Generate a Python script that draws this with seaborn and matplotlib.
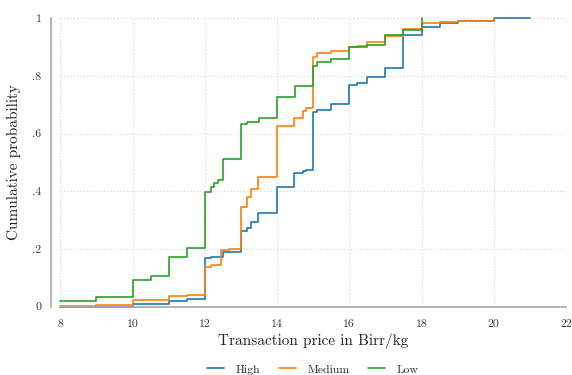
import pandas as pd
import matplotlib
matplotlib.use("Agg")
import matplotlib.pyplot as plt
import seaborn as sns

# -----------------------------------------------------
# DATA
# -----------------------------------------------------

high_price = [8, 10, 11, 11.5, 12, 12.16, 12.5, 13, 13.18, 13.28, 13.46, 14, 14.48, 14.72, 14.81,
              15, 15.12, 15.5, 16, 16.21, 16.5, 17, 17.5, 18, 18.5, 19, 20, 21]
high_cum = [0.0, 0.010, 0.021, 0.027, 0.168, 0.172, 0.189, 0.263, 0.272, 0.292, 0.324, 0.416, 0.465, 0.472, 0.475,
            0.674, 0.682, 0.702, 0.769, 0.777, 0.798, 0.826, 0.941, 0.971, 0.982, 0.989, 1.0, 1.0]

medium_price = [8, 9, 10, 11, 11.5, 12, 12.16, 12.45, 12.67, 13, 13.18, 13.28, 13.46, 14, 14.48, 14.72, 14.81,
                15, 15.12, 15.5, 16, 16.21, 16.5, 17, 17.5, 18, 18.5, 19, 20]
medium_cum = [0.002, 0.006, 0.022, 0.036, 0.039, 0.139, 0.143, 0.197, 0.201, 0.344, 0.382, 0.407, 0.451, 0.627, 0.656, 0.678, 0.690,
              0.866, 0.878, 0.887, 0.899, 0.905, 0.917, 0.938, 0.963, 0.982, 0.986, 0.991, 1.0]

low_price = [8, 9, 10, 10.5, 11, 11.5, 12, 12.16, 12.26, 12.36, 12.5, 13, 13.18, 13.5, 14, 14.5,
             15, 15.12, 15.5, 16, 16.5, 17, 17.5, 18]
low_cum = [0.021, 0.032, 0.092, 0.105, 0.174, 0.205, 0.399, 0.416, 0.429, 0.439, 0.511, 0.633, 0.642, 0.655, 0.726, 0.765,
           0.835, 0.847, 0.858, 0.899, 0.909, 0.941, 0.958, 1.0]

groups = ["High", "Medium", "Low"]
colors = ["#1f77b4", "#ff7f0e", "#2ca02c"]

x_ticks = [8, 10, 12, 14, 16, 18, 20, 22]
y_ticks = [0, 0.2, 0.4, 0.6, 0.8, 1.0]
y_tick_labels = ["0", ".2", ".4", ".6", ".8", "1"]

# -----------------------------------------------------
# PREPARE DATA
# -----------------------------------------------------

df = pd.concat([
    pd.DataFrame({"price": high_price, "cum": high_cum, "group": "High"}),
    pd.DataFrame({"price": medium_price, "cum": medium_cum, "group": "Medium"}),
    pd.DataFrame({"price": low_price, "cum": low_cum, "group": "Low"}),
], ignore_index=True)

# -----------------------------------------------------
# PLOT
# -----------------------------------------------------

sns.set_style("white")
plt.rcParams['font.family'] = ['cmr10', 'DejaVu Serif']
plt.rcParams['axes.unicode_minus'] = False

fig = plt.figure(figsize=(5.72, 3.75), dpi=100)
ax = fig.add_axes([0.1054, 0.1821, 0.8841, 0.7691])

sns.lineplot(
    data=df, x="price", y="cum", hue="group",
    hue_order=groups, palette=colors,
    estimator=None, sort=True, drawstyle="steps-post",
    linewidth=1.2, ax=ax, legend=False, clip_on=False
)

ax.set_xlim(8, 22)
ax.set_ylim(0, 1)
ax.set_xticks(x_ticks)
ax.set_xticklabels([str(t) for t in x_ticks])
ax.set_yticks(y_ticks)
ax.set_yticklabels(y_tick_labels)

ax.grid(True, linestyle=(0, (1, 2)), color="#d4d4d4", linewidth=0.8)
ax.set_axisbelow(True)

for side in ["top", "right"]:
    ax.spines[side].set_visible(False)
ax.spines["left"].set_position(("outward", 6.5))
for side in ["left", "bottom"]:
    ax.spines[side].set_color("#a8a8a8")
    ax.spines[side].set_linewidth(1.2)

ax.tick_params(axis="both", length=3.5, width=0.8, color="#a8a8a8",
               labelsize=8.5, labelcolor="#333333", direction="out")
ax.tick_params(axis="x", pad=6)

ax.set_xlabel("Transaction price in Birr/kg", fontsize=11, color="#222222", labelpad=3)
ax.set_ylabel("Cumulative probability", fontsize=11, color="#222222", labelpad=8)

# legend centred under the plot region
handles = [plt.Line2D([], [], color=c, linewidth=1.2) for c in colors]
fig.legend(handles, groups, loc="center", bbox_to_anchor=(0.547, 0.015), ncol=3,
           frameon=False, fontsize=8.5, handlelength=1.45, columnspacing=1.6, handletextpad=0.95)

plt.savefig("out.png", dpi=100)
plt.close()
